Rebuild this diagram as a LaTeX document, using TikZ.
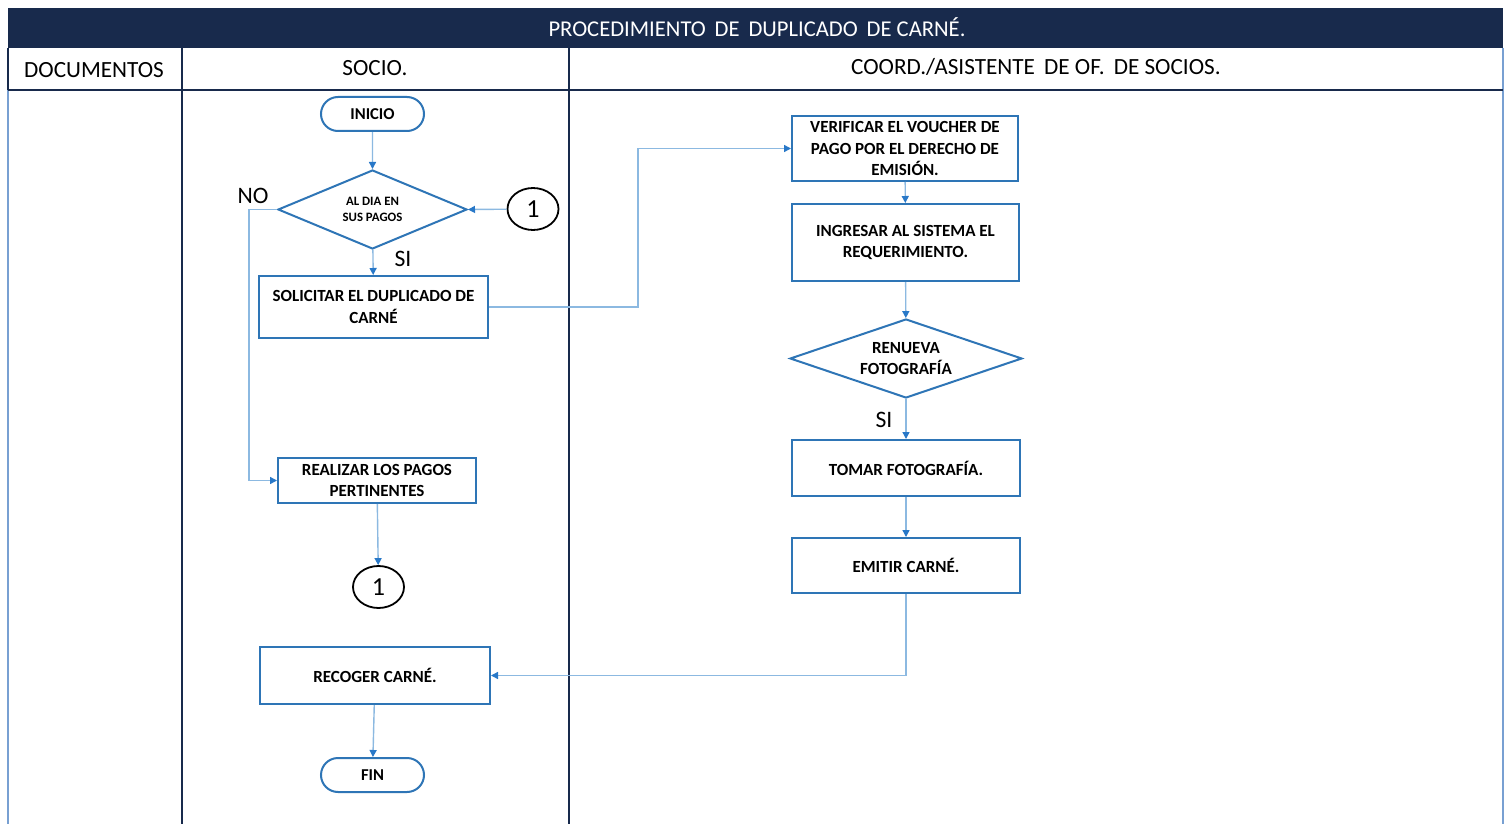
\documentclass[tikz,border=0pt]{standalone}
\usepackage{fontspec}
\setmainfont{Carlito}
\usetikzlibrary{shapes.geometric,shapes.misc,arrows.meta}
\definecolor{navy}{RGB}{24,42,76}
\definecolor{boxblue}{RGB}{46,117,182}
\definecolor{linkblue}{RGB}{140,185,225}
\definecolor{tipblue}{RGB}{40,120,200}
\definecolor{edgeblue}{RGB}{120,160,210}
\begin{document}
\begin{tikzpicture}[x=0.5pt,y=-0.5pt,
  box/.style={draw=boxblue, line width=1pt, rectangle, align=center, inner sep=0pt, font=\fontsize{8.5}{10.7}\selectfont\bfseries},
  term/.style={draw=boxblue, line width=1pt, rounded rectangle, minimum width=51.5pt, minimum height=17pt, inner sep=0pt, font=\fontsize{8.3}{9}\selectfont\bfseries},
  dec/.style={draw=boxblue, line width=1pt, diamond, inner sep=0pt, align=center},
  conn/.style={draw=black, line width=0.9pt, ellipse, minimum width=25.5pt, minimum height=21pt, inner sep=0pt, font=\fontsize{13}{13}\selectfont},
  link/.style={draw=linkblue, line width=0.7pt, -{Triangle[length=3.5pt,width=3.5pt,color=tipblue]}},
  hdr/.style={font=\fontsize{11.6}{13}\selectfont},
  lbl/.style={font=\fontsize{11.8}{13}\selectfont}]
\useasboundingbox (0,0) rectangle (1506,824);
\fill[white] (0,0) rectangle (1506,824);
% frame
\fill[navy] (8,8) rectangle (1503,48);
\node[text=white, font=\fontsize{11.3}{13}\selectfont] (title) at (757,27) {PROCEDIMIENTO \,DE \,DUPLICADO \,DE CARNÉ.};
\draw[navy, line width=1pt] (8,48) -- (8,90);
\draw[edgeblue, line width=0.8pt] (8,90) -- (8,824);
\draw[edgeblue, line width=0.8pt] (1503,48) -- (1503,824);
\draw[navy, line width=1.4pt] (8,90) -- (1503,90);
\draw[navy, line width=1pt] (182,48) -- (182,824);
\draw[navy, line width=1pt] (569,48) -- (569,824);
\node[hdr] (hdoc) at (94,70) {DOCUMENTOS};
\node[hdr] (hsoc) at (375,68) {SOCIO.};
\node[hdr] (hcoo) at (1036,67) {COORD./ASISTENTE \,DE OF. \,DE SOCIOS.};
% nodes
\node[term] (inicio) at (372.5,114) {INICIO};
\node[dec, aspect=2.39, minimum width=94.5pt, minimum height=39.5pt, font=\fontsize{6.4}{8}\selectfont\bfseries] (dia) at (372.5,209.5) {AL DIA EN\\SUS PAGOS};
\node[conn] (c1a) at (533,209) {1};
\node[box, minimum width=114.5pt, minimum height=31pt] (solicitar) at (373.5,307) {SOLICITAR EL DUPLICADO DE\\CARNÉ};
\node[box, minimum width=99pt, minimum height=22.5pt] (realizar) at (377,480.5) {REALIZAR LOS PAGOS\\PERTINENTES};
\node[conn] (c1b) at (378.5,587) {1};
\node[box, minimum width=115pt, minimum height=28.5pt] (recoger) at (375,675.5) {RECOGER CARNÉ.};
\node[term] (fin) at (372.5,775) {FIN};
\node[box, minimum width=113pt, minimum height=32.5pt] (verificar) at (905,148.5) {VERIFICAR EL VOUCHER DE\\PAGO POR EL DERECHO DE\\EMISIÓN.};
\node[box, minimum width=113.5pt, minimum height=38.5pt] (ingresar) at (905.5,242.5) {INGRESAR AL SISTEMA EL\\REQUERIMIENTO.};
\node[dec, aspect=2.94, minimum width=116pt, minimum height=39.5pt, font=\fontsize{8.5}{10.5}\selectfont\bfseries] (renueva) at (906,358.5) {RENUEVA\\FOTOGRAFÍA};
\node[box, minimum width=114pt, minimum height=28pt] (tomar) at (906,468) {TOMAR FOTOGRAFÍA.};
\node[box, minimum width=114pt, minimum height=27.5pt] (emitir) at (906,565.5) {EMITIR CARNÉ.};
% labels
\node[lbl] (no) at (253,196) {NO};
\node[lbl] (si1) at (403,259) {SI};
\node[lbl] (si2) at (884,420) {SI};
% connectors
\coordinate (noturn) at (249,209.5);
\coordinate (j1) at (638,307);
\draw[link] (inicio) -- (dia);
\draw[link] (c1a) -- (dia.east);
\draw[link] (dia) -- (solicitar);
\draw[link] (dia.west) -- (noturn) |- (realizar.west);
\draw[link] (solicitar.east) -- (j1) |- (verificar.west);
\draw[link] (verificar) -- (ingresar);
\draw[link] (ingresar) -- (renueva);
\draw[link] (renueva) -- (tomar);
\draw[link] (tomar) -- (emitir);
\draw[link] (emitir.south) |- (recoger.east);
\draw[link] (realizar) -- (c1b);
\draw[link] (recoger) -- (fin);
\end{tikzpicture}
\end{document}
